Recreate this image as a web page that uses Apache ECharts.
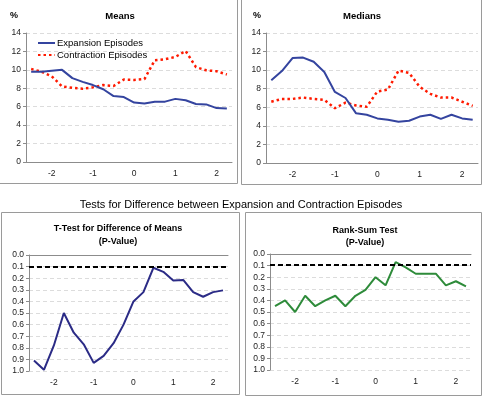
<!DOCTYPE html>
<html>
<head>
<meta charset="utf-8">
<script src="https://cdn.jsdelivr.net/npm/echarts@6/dist/echarts.min.js"></script>
<style>
    html, body { margin: 0; padding: 0; background: #fff; }
    #MainChart { width: 483px; height: 399px; }
</style>
</head>
<body>
<div id="MainChart"></div>
<script>
//季度(年)
var quarters = ['-2.5', '-2.25', '-2', '-1.75', '-1.5', '-1.25', '-1', '-0.75', '-0.5', '-0.25',
    '0', '0.25', '0.5', '0.75', '1', '1.25', '1.5', '1.75', '2', '2.25'];

//均值
var meansExpansion = [9.8, 9.8, 9.9, 10.0, 9.1, 8.7, 8.35, 7.9, 7.15, 7.05,
    6.45, 6.35, 6.55, 6.55, 6.85, 6.7, 6.3, 6.25, 5.85, 5.8];
var meansContraction = [10.1, 9.8, 9.3, 8.2, 8.05, 7.95, 8.1, 8.35, 8.25, 8.95,
    8.9, 9.0, 11.05, 11.15, 11.4, 12.05, 10.3, 9.95, 9.85, 9.5];

//中位数
var mediansExpansion = [8.9, 9.9, 11.3, 11.35, 10.9, 9.8, 7.65, 7.0, 5.35, 5.2,
    4.8, 4.65, 4.45, 4.55, 5.0, 5.2, 4.75, 5.2, 4.8, 4.65];
var mediansContraction = [6.6, 6.9, 6.9, 7.05, 6.9, 6.8, 5.9, 6.5, 6.2, 6.05,
    7.7, 7.9, 9.95, 9.7, 8.2, 7.45, 7.05, 7.05, 6.6, 6.15];

//P值
var tTestP = [0.91, 0.99, 0.78, 0.5, 0.67, 0.77, 0.93, 0.87, 0.76, 0.6,
    0.4, 0.32, 0.11, 0.145, 0.22, 0.215, 0.32, 0.36, 0.32, 0.305];
var rankSumP = [0.45, 0.4, 0.5, 0.36, 0.45, 0.4, 0.36, 0.45, 0.36, 0.31,
    0.2, 0.27, 0.07, 0.115, 0.17, 0.17, 0.17, 0.27, 0.235, 0.28];

//显著性水平
var tTestLevel = 0.1;
var rankSumLevel = 0.09;

//百分比刻度
var pctMin = 0, pctMax = 14, pctStep = 2;
var pMin = 0, pMax = 1, pStep = 0.1;

var fontName = 'Arial, "Liberation Sans", sans-serif';
var axisGray = '#8c8c8c';

showChart();

//x轴
function makeXAxis(gridIndex, tickInside) {
    return {
        type: 'category',
        gridIndex: gridIndex,
        data: quarters,
        boundaryGap: true,
        axisLine: { lineStyle: { color: axisGray, width: 1 } },
        axisTick: {
            inside: tickInside,
            length: 4,
            lineStyle: { color: axisGray },
            interval: function (index) { return index % 4 === 0; }
        },
        axisLabel: {
            interval: function (index) { return index % 4 === 2; },
            color: '#222',
            fontFamily: fontName,
            fontSize: 8.5,
            margin: 7
        },
        splitLine: { show: false }
    };
}

//y轴
function makeYAxis(gridIndex, min, max, step, inverse, digits) {
    return {
        type: 'value',
        gridIndex: gridIndex,
        min: min,
        max: max,
        interval: step,
        inverse: inverse,
        axisLine: { show: true, lineStyle: { color: axisGray, width: 1 } },
        axisTick: { show: true, length: 3, lineStyle: { color: axisGray } },
        axisLabel: {
            color: '#222',
            fontFamily: fontName,
            fontSize: 8.5,
            margin: 5,
            formatter: function (v) { return v.toFixed(digits); }
        },
        splitLine: {
            show: true,
            lineStyle: { color: '#dcdcdc', type: [4, 3], width: 1 }
        }
    };
}

//文字
function label(text, x, y, size, bold) {
    return {
        type: 'text',
        x: x,
        y: y,
        style: {
            text: text,
            fill: '#000',
            font: (bold ? 'bold ' : '') + size + 'px ' + fontName,
            textAlign: 'center',
            textVerticalAlign: 'middle'
        }
    };
}

//边框
function frame(x, y, w, h) {
    return {
        type: 'rect',
        shape: { x: x + 0.5, y: y + 0.5, width: w, height: h },
        style: { fill: null, stroke: '#9a9a9a', lineWidth: 1 }
    };
}

//显示图表
function showChart() {
    var myChart = echarts.init(document.getElementById('MainChart'), null, { renderer: 'canvas' });
    var blueLine = { color: '#34449f', width: 2 };
    var redLine = { color: '#ff1a00', width: 2.5, type: [2.5, 3] };
    var option = {
        animation: false,
        backgroundColor: '#fff',
        textStyle: { fontFamily: fontName },
        legend: {
            data: ['Expansion Episodes', 'Contraction Episodes'],
            orient: 'vertical',
            left: 32,
            top: 33,
            itemWidth: 17,
            itemHeight: 10,
            itemGap: 2,
            itemStyle: { opacity: 0 },
            textStyle: { color: '#000', fontSize: 9.5, fontFamily: fontName, padding: [0, 0, 0, -3] },
            selectedMode: false
        },
        grid: [
            { left: 26, top: 33, width: 206, height: 129 },
            { left: 266, top: 33, width: 212, height: 130 },
            { left: 29, top: 255, width: 199, height: 116 },
            { left: 270, top: 254, width: 201, height: 116 }
        ],
        xAxis: [
            makeXAxis(0, false),
            makeXAxis(1, false),
            makeXAxis(2, true),
            makeXAxis(3, true)
        ],
        yAxis: [
            makeYAxis(0, pctMin, pctMax, pctStep, false, 0),
            makeYAxis(1, pctMin, pctMax, pctStep, false, 0),
            makeYAxis(2, pMin, pMax, pStep, true, 1),
            makeYAxis(3, pMin, pMax, pStep, true, 1)
        ],
        graphic: [
            frame(-1, -1, 238, 184),
            frame(241, -1, 240, 185),
            frame(1, 212, 238, 182),
            frame(245, 212, 236, 183),
            label('%', 14, 16, 9, true),
            label('Means', 120, 16, 9.5, true),
            label('%', 257, 16, 9, true),
            label('Medians', 362, 16, 9.5, true),
            label('Tests for Difference between Expansion and Contraction Episodes', 241, 205, 11, false),
            label('T-Test for Difference of Means', 118, 229, 9, true),
            label('(P-Value)', 118, 242, 9, true),
            label('Rank-Sum Test', 365, 231, 9, true),
            label('(P-Value)', 365, 243, 9, true)
        ],
        series: [
            {
                name: 'Expansion Episodes', type: 'line', xAxisIndex: 0, yAxisIndex: 0,
                data: meansExpansion, symbol: 'none', lineStyle: blueLine, itemStyle: { color: blueLine.color }, z: 3
            },
            {
                name: 'Contraction Episodes', type: 'line', xAxisIndex: 0, yAxisIndex: 0,
                data: meansContraction, symbol: 'none', lineStyle: redLine, itemStyle: { color: redLine.color }, z: 2
            },
            {
                name: 'Expansion Episodes', type: 'line', xAxisIndex: 1, yAxisIndex: 1,
                data: mediansExpansion, symbol: 'none', lineStyle: blueLine, itemStyle: { color: blueLine.color }, z: 3
            },
            {
                name: 'Contraction Episodes', type: 'line', xAxisIndex: 1, yAxisIndex: 1,
                data: mediansContraction, symbol: 'none', lineStyle: redLine, itemStyle: { color: redLine.color }, z: 2
            },
            {
                name: 'T-Test', type: 'line', xAxisIndex: 2, yAxisIndex: 2,
                data: tTestP, symbol: 'none', lineStyle: { color: '#2b2b86', width: 2 },
                markLine: {
                    silent: true, symbol: 'none', label: { show: false },
                    lineStyle: { color: '#000', width: 2, type: [5, 3] },
                    data: [{ yAxis: tTestLevel }]
                }
            },
            {
                name: 'Rank-Sum', type: 'line', xAxisIndex: 3, yAxisIndex: 3,
                data: rankSumP, symbol: 'none', lineStyle: { color: '#2e8b3a', width: 2 },
                markLine: {
                    silent: true, symbol: 'none', label: { show: false },
                    lineStyle: { color: '#000', width: 2, type: [5, 3] },
                    data: [{ yAxis: rankSumLevel }]
                }
            }
        ]
    };
    myChart.setOption(option);
}
</script>
</body>
</html>
